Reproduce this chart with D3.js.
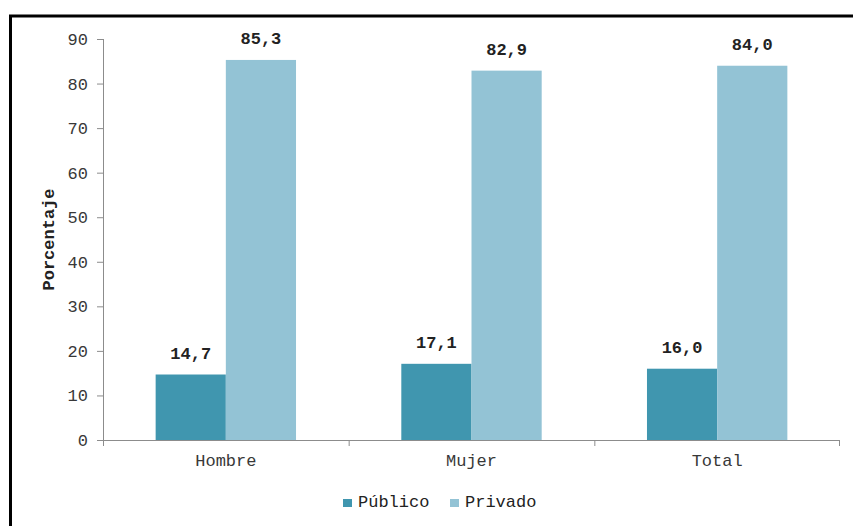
<!DOCTYPE html>
<html>
<head>
<meta charset="utf-8">
<script src="https://cdn.jsdelivr.net/npm/d3@7"></script>
<style>
  html, body { margin: 0; padding: 0; background: #fff; }
  svg { display: block; }
  text { font-family: "Liberation Mono", "DejaVu Sans Mono", monospace; }
</style>
</head>
<body>
<svg id="chart" width="853" height="526"></svg>
<script>
// Grupos y series
const categories = ["Hombre", "Mujer", "Total"];
const seriesNames = ["Público", "Privado"];
const publico = [14.7, 17.1, 16.0];
const privado = [85.3, 82.9, 84.0];
const yTicks = [0, 10, 20, 30, 40, 50, 60, 70, 80, 90];
const colors = ["#4096af", "#93c3d5"];

const svg = d3.select("#chart");
const W = 853, H = 526;
const margin = { left: 103, right: 13, top: 39, bottom: 86 };

// Marco
svg.append("line").attr("x1", 9).attr("x2", W).attr("y1", 16).attr("y2", 16)
  .attr("stroke", "#000").attr("stroke-width", 3);
svg.append("line").attr("x1", 10.5).attr("x2", 10.5).attr("y1", 15).attr("y2", H)
  .attr("stroke", "#000").attr("stroke-width", 3);

const x = d3.scaleBand().domain(categories)
  .range([margin.left, W - margin.right]).paddingInner(0).paddingOuter(0);
const y = d3.scaleLinear().domain([0, 90]).range([H - margin.bottom, margin.top]);

const inner = d3.scaleBand().domain(seriesNames)
  .range([0, x.bandwidth()]).paddingInner(0).paddingOuter(0.75);

const data = categories.map((c, i) => ({ cat: c, vals: [publico[i], privado[i]] }));

// Barras con su valor encima
const g = svg.append("g");
data.forEach(d => {
  d.vals.forEach((v, j) => {
    const bx = x(d.cat) + inner(seriesNames[j]);
    g.append("rect")
      .attr("x", bx).attr("width", inner.bandwidth())
      .attr("y", y(v)).attr("height", y(0) - y(v))
      .attr("fill", colors[j]);
    g.append("text")
      .attr("x", bx + inner.bandwidth() / 2)
      .attr("y", y(v) - 16)
      .attr("text-anchor", "middle")
      .attr("font-size", 17).attr("font-weight", "bold")
      .attr("fill", "#222")
      .text(v.toFixed(1).replace(".", ","));
  });
});

// Eje Y
const yAxis = d3.axisLeft(y).tickValues(yTicks).tickSize(6).tickSizeOuter(0).tickPadding(9);
const gy = svg.append("g").attr("transform", `translate(${margin.left},0)`).call(yAxis);
gy.select(".domain").attr("stroke", "#8c8c8c").attr("d", `M0.5,${y(90)}V${y(0) + 6}`);
gy.selectAll(".tick line").attr("stroke", "#8c8c8c");
gy.selectAll(".tick text").attr("font-size", 17).attr("fill", "#383838")
  .attr("font-family", "Liberation Mono, monospace");

// Eje X
const xAxis = d3.axisBottom(x).tickSize(0).tickPadding(14);
const gx = svg.append("g").attr("transform", `translate(0,${y(0)})`).call(xAxis);
gx.select(".domain").remove();
gx.selectAll(".tick text").attr("font-size", 17).attr("fill", "#383838")
  .attr("font-family", "Liberation Mono, monospace");
gx.append("line").attr("x1", margin.left).attr("x2", W - margin.right)
  .attr("y1", 0.5).attr("y2", 0.5).attr("stroke", "#8c8c8c");
categories.forEach(c => {
  gx.append("line").attr("x1", x(c) + 0.5).attr("x2", x(c) + 0.5)
    .attr("y1", 0).attr("y2", 6).attr("stroke", "#8c8c8c");
});
gx.append("line").attr("x1", W - margin.right - 0.5).attr("x2", W - margin.right - 0.5)
  .attr("y1", 0).attr("y2", 6).attr("stroke", "#8c8c8c");

// Título del eje Y
svg.append("text")
  .attr("transform", `translate(54,${(y(0) + y(90)) / 2}) rotate(-90)`)
  .attr("text-anchor", "middle")
  .attr("font-size", 17).attr("font-weight", "bold").attr("fill", "#222")
  .text("Porcentaje");

// Leyenda
const legend = svg.append("g").attr("transform", "translate(343,499)");
const legendX = [0, 107];
seriesNames.forEach((s, j) => {
  const lg = legend.append("g").attr("transform", `translate(${legendX[j]},0)`);
  lg.append("rect").attr("width", 9).attr("height", 8).attr("fill", colors[j]);
  lg.append("text").attr("x", 15).attr("y", 8).attr("font-size", 17).attr("fill", "#222")
    .text(s);
});
</script>
</body>
</html>
